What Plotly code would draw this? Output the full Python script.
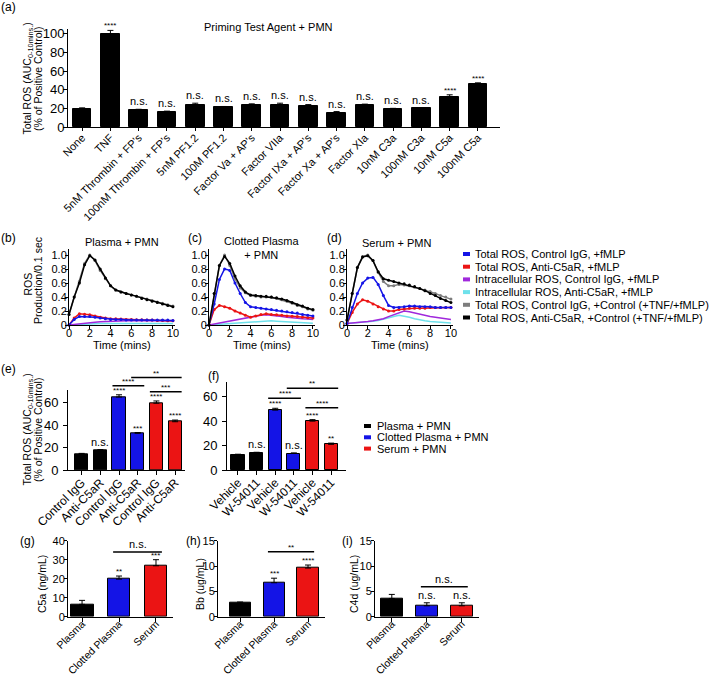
import plotly.graph_objects as go

W, H = 709, 678
FONT = "Arial, Liberation Sans, sans-serif"

# ---------------- data ----------------
a_categories = ["None", "TNF", "5nM Thrombin + FP's", "100nM Thrombin + FP's", "5nM PF1.2",
                "100M PF1.2", "Factor Va + AP's", "Factor VIIa", "Factor IXa + AP's",
                "Factor Xa + AP's", "Factor XIa", "10nM C3a", "100nM C3a", "10nM C5a", "100nM C5a"]
a_values = [19.5, 100, 18, 16.5, 23.5, 21, 24, 24, 22, 15.5, 24, 19.5, 20, 32.5, 46.5]
a_errors = [1, 3.5, 1, 0.5, 2, 1, 0.8, 1.5, 2, 1, 0.5, 0.5, 0.8, 2, 0.8]
a_sig = ["", "****", "n.s.", "n.s.", "n.s.", "n.s.", "n.s.", "n.s.", "n.s.", "n.s.",
         "n.s.", "n.s.", "n.s.", "****", "****"]

times = [0, 0.5, 1, 1.5, 2, 2.5, 3, 3.5, 4, 4.5, 5, 5.5, 6, 6.5, 7, 7.5, 8, 8.5, 9, 9.5, 10]
series_names = ["Total ROS, Control IgG, +fMLP", "Total ROS, Anti-C5aR, +fMLP",
                "Intracellular ROS, Control IgG, +fMLP", "Intracellular ROS, Anti-C5aR, +fMLP",
                "Total ROS, Control IgG, +Control (+TNF/+fMLP)",
                "Total ROS, Anti-C5aR, +Control (+TNF/+fMLP)"]
# panel (b) Plasma + PMN
b_blue = [0, 0.08, 0.12, 0.12, 0.12, 0.11, 0.10, 0.09, 0.08, 0.08, 0.08, 0.07, 0.07, 0.07, 0.07, 0.07, 0.07, 0.07, 0.07, 0.07, 0.065]
b_red = [0, 0.10, 0.16, 0.155, 0.145, 0.13, 0.11, 0.10, 0.09, 0.09, 0.085, 0.08, 0.08, 0.075, 0.075, 0.07, 0.07, 0.065, 0.065, 0.06, 0.06]
b_purple = [0, 0.01, 0.02, 0.03, 0.035, 0.04, 0.045, 0.05, 0.055, 0.06, 0.06, 0.06, 0.06, 0.06, 0.06, 0.06, 0.06, 0.06, 0.06, 0.06, 0.06]
b_cyan = [0, 0.005, 0.01, 0.01, 0.015, 0.015, 0.02, 0.02, 0.02, 0.02, 0.02, 0.02, 0.02, 0.02, 0.02, 0.02, 0.02, 0.02, 0.02, 0.02, 0.02]
b_gray = [0.15, 0.40, 0.62, 0.88, 1.0, 0.92, 0.78, 0.66, 0.56, 0.50, 0.47, 0.45, 0.43, 0.41, 0.39, 0.37, 0.35, 0.33, 0.31, 0.29, 0.27]
b_black = [0.15, 0.40, 0.60, 0.86, 0.99, 0.93, 0.80, 0.67, 0.56, 0.50, 0.47, 0.45, 0.43, 0.41, 0.38, 0.36, 0.34, 0.32, 0.30, 0.28, 0.26]
# panel (c) Clotted Plasma + PMN
c_blue = [0, 0.30, 0.65, 0.80, 0.78, 0.60, 0.45, 0.32, 0.26, 0.25, 0.24, 0.23, 0.22, 0.21, 0.20, 0.19, 0.18, 0.17, 0.15, 0.14, 0.13]
c_red = [0, 0.22, 0.28, 0.26, 0.24, 0.20, 0.17, 0.14, 0.11, 0.13, 0.15, 0.16, 0.15, 0.145, 0.14, 0.13, 0.125, 0.12, 0.11, 0.105, 0.10]
c_purple = [0, 0.015, 0.03, 0.045, 0.06, 0.075, 0.09, 0.105, 0.12, 0.13, 0.14, 0.145, 0.14, 0.13, 0.12, 0.11, 0.10, 0.095, 0.09, 0.085, 0.08]
c_cyan = [0, 0.005, 0.01, 0.015, 0.02, 0.025, 0.03, 0.035, 0.04, 0.05, 0.055, 0.06, 0.06, 0.055, 0.05, 0.045, 0.04, 0.035, 0.03, 0.03, 0.025]
c_gray = [0, 0.45, 0.85, 1.0, 0.85, 0.66, 0.53, 0.46, 0.42, 0.41, 0.40, 0.40, 0.40, 0.38, 0.36, 0.34, 0.31, 0.28, 0.26, 0.23, 0.21]
c_black = [0, 0.45, 0.85, 0.98, 0.88, 0.70, 0.56, 0.47, 0.43, 0.42, 0.41, 0.41, 0.40, 0.39, 0.37, 0.35, 0.32, 0.29, 0.27, 0.24, 0.22]
# panel (d) Serum + PMN
d_blue = [0.02, 0.25, 0.45, 0.60, 0.67, 0.68, 0.58, 0.42, 0.28, 0.25, 0.25, 0.26, 0.27, 0.27, 0.26, 0.26, 0.26, 0.25, 0.25, 0.25, 0.25]
d_red = [0.02, 0.18, 0.30, 0.36, 0.34, 0.30, 0.26, 0.23, 0.20, 0.20, 0.22, 0.23, 0.24, 0.24, 0.24, 0.24, 0.25, 0.25, 0.25, 0.25, 0.25]
d_purple = [0.02, 0.025, 0.03, 0.04, 0.05, 0.06, 0.07, 0.09, 0.12, 0.15, 0.18, 0.20, 0.19, 0.17, 0.15, 0.13, 0.12, 0.11, 0.10, 0.09, 0.08]
d_cyan = [0.02, 0.025, 0.03, 0.035, 0.045, 0.055, 0.065, 0.08, 0.10, 0.12, 0.14, 0.13, 0.11, 0.09, 0.07, 0.06, 0.05, 0.045, 0.04, 0.035, 0.03]
d_gray = [0.07, 0.45, 0.82, 0.98, 1.0, 0.92, 0.75, 0.62, 0.56, 0.56, 0.58, 0.57, 0.56, 0.54, 0.52, 0.50, 0.48, 0.45, 0.42, 0.40, 0.37]
d_black = [0.07, 0.45, 0.82, 0.97, 0.99, 0.92, 0.76, 0.66, 0.64, 0.62, 0.60, 0.59, 0.57, 0.55, 0.52, 0.49, 0.45, 0.42, 0.38, 0.35, 0.32]

e_categories = ["Control IgG", "Anti-C5aR", "Control IgG", "Anti-C5aR", "Control IgG", "Anti-C5aR"]
e_values = [14, 17.2, 65, 32.7, 59.5, 43]
e_errors = [0.8, 1, 2, 0.7, 2, 1.5]
e_sig = ["", "n.s.", "****", "***", "****", "****"]
e_brackets = [(2, 3, 75, "****"), (4, 5, 69.8, "***"), (3, 5, 82.3, "**")]

f_categories = ["Vehicle", "W-54011", "Vehicle", "W-54011", "Vehicle", "W-54011"]
f_values = [12.3, 13.7, 49, 13.5, 40, 21]
f_errors = [0.6, 0.8, 1.5, 0.5, 1.2, 1]
f_sig = ["", "n.s.", "****", "n.s.", "****", "**"]
f_brackets = [(2, 3, 58.7, "****"), (4, 5, 51, "****"), (3, 5, 66.9, "**")]

group_names = ["Plasma + PMN", "Clotted Plasma + PMN", "Serum + PMN"]
ghi_categories = ["Plasma", "Clotted Plasma", "Serum"]
g_values = [6.5, 19.8, 26.8]
g_errors = [2.1, 1.6, 3.2]
g_sig = ["", "**", "***"]
g_brackets = [(1, 2, 34, "n.s.")]
h_values = [2.7, 6.7, 9.6]
h_errors = [0.2, 0.9, 0.6]
h_sig = ["", "***", "****"]
h_brackets = [(1, 2, 12.8, "**")]
i_values = [3.6, 2.15, 2.15]
i_errors = [0.8, 0.6, 0.6]
i_sig = ["", "n.s.", "n.s."]
i_brackets = [(1, 2, 5.9, "n.s.")]

# ---------------- styles ----------------
BLUE = "rgb(20,20,230)"
RED = "rgb(235,20,20)"
PURPLE = "rgb(160,40,220)"
CYAN = "rgb(110,225,235)"
GRAY = "rgb(125,125,125)"
BLACK = "rgb(0,0,0)"
series_colors = [BLUE, RED, PURPLE, CYAN, GRAY, BLACK]
group_colors = [BLACK, BLUE, RED]

fig = go.Figure()
layout = {}
annotations = []
shapes = []
panels = {}


def add_axes(n, xpx, ypx, xr, yr, tickfont=11, xstand=-4, ystand=-2, yticklen=4, **xkw):
    xs = "" if n == 1 else str(n)
    xd = [xpx[0] / W, xpx[1] / W]
    yd = [1 - ypx[1] / H, 1 - ypx[0] / H]
    common = dict(showline=True, linecolor="black", linewidth=1, ticks="outside",
                  tickwidth=1, tickcolor="black", showgrid=False, automargin=False,
                  zeroline=False, tickfont=dict(size=tickfont, color="black", family=FONT))
    xa = dict(domain=xd, range=xr, anchor="y" + xs, ticklabelstandoff=xstand, ticklen=4, **common)
    xa.update(xkw)
    layout["xaxis" + xs] = xa
    layout["yaxis" + xs] = dict(domain=yd, range=yr, anchor="x" + xs, ticklabelstandoff=ystand,
                                ticklen=yticklen, **common)
    panels[n] = dict(xref="x" + xs, yref="y" + xs, yd=yd, yr=yr)
    return "x" + xs, "y" + xs


def ypaper(n, v):
    p = panels[n]
    return p["yd"][0] + (v - p["yr"][0]) / (p["yr"][1] - p["yr"][0]) * (p["yd"][1] - p["yd"][0])


def txt(x, y, s, size=11, xanchor="center", yanchor="middle", angle=0):
    annotations.append(dict(x=x / W, y=1 - y / H, xref="paper", yref="paper", text=s, showarrow=False,
                            xanchor=xanchor, yanchor=yanchor, textangle=angle,
                            font=dict(size=size, color="black", family=FONT)))


def bars(n, vals, errs, colors, width, sig, sigsizes=(11, 8)):
    p = panels[n]
    xs = list(range(len(vals)))
    fig.add_trace(go.Bar(x=xs, y=vals, width=width, marker=dict(color=colors, line=dict(color="black", width=1)),
                         error_y=dict(type="data", array=errs, arrayminus=[0] * len(vals), symmetric=False,
                                      color="black", thickness=1, width=3),
                         xaxis=p["xref"], yaxis=p["yref"], showlegend=False))
    for i, s in enumerate(sig):
        if s:
            annotations.append(dict(x=i, y=vals[i] + errs[i], xref=p["xref"], yref=p["yref"], text=s,
                                    showarrow=False, yanchor="bottom", yshift=0 if s == "n.s." else -2,
                                    font=dict(size=sigsizes[0] if s == "n.s." else sigsizes[1], color="black", family=FONT)))


def brackets(n, items, pad):
    p = panels[n]
    for i0, i1, yv, s in items:
        yp = ypaper(n, yv)
        shapes.append(dict(type="line", xref=p["xref"], yref="paper", x0=i0 - pad, x1=i1 + pad,
                           y0=yp, y1=yp, line=dict(color="black", width=1.5)))
        annotations.append(dict(x=(i0 + i1) / 2, y=yp, xref=p["xref"], yref="paper", text=s, showarrow=False,
                                yanchor="bottom", yshift=0 if s == "n.s." else -2,
                                font=dict(size=11 if s == "n.s." else 8, color="black", family=FONT)))


# ---------- (a) ----------
add_axes(1, (68, 500), (29, 127), [-0.5, 14.78], [0, 105], tickfont=13, ystand=-4,
         tickvals=list(range(len(a_categories))), ticktext=a_categories, tickangle=-45,
         ticklen=3)
layout["xaxis"]["tickfont"] = dict(size=11, color="black", family=FONT)
layout["yaxis"]["tickvals"] = [0, 20, 40, 60, 80, 100]
txt(27.5, 79, "Total ROS (AUC<sub>0-10mins.</sub>)", size=10.5, angle=-90)
txt(38, 79, "(% of Positive Control)", size=10.5, angle=-90)
bars(1, a_values, a_errors, [BLACK] * len(a_values), 0.66, a_sig)
txt(268, 27, "Priming Test Agent + PMN", size=11)

# ---------- (b)-(d) ----------
line_panels = [
    (2, (69, 175), [b_blue, b_red, b_purple, b_cyan, b_gray, b_black]),
    (3, (209, 315), [c_blue, c_red, c_purple, c_cyan, c_gray, c_black]),
    (4, (347, 453), [d_blue, d_red, d_purple, d_cyan, d_gray, d_black]),
]
for n, xpx, ser in line_panels:
    xr_, yr_ = add_axes(n, xpx, (249.4, 325), [0, 10.2], [0, 1.08], tickfont=11,
                        xstand=-5, ystand=-4, yticklen=3, tickvals=[0, 2, 4, 6, 8, 10], ticklen=3)
    layout["yaxis" + str(n)]["tickvals"] = [0, 0.2, 0.4, 0.6, 0.8, 1.0]
    layout["yaxis" + str(n)]["ticktext"] = ["0", "0.2", "0.4", "0.6", "0.8", "1.0"]
    txt(xpx[0] + 52.5, 345, "Time (mins)", size=11)
    for k in [3, 2, 1, 0, 4, 5]:
        withm = k in (0, 1, 4, 5)
        fig.add_trace(go.Scatter(x=times, y=ser[k], mode="lines+markers" if withm else "lines",
                                 line=dict(color=series_colors[k], width=1.5),
                                 marker=dict(size=3, color=series_colors[k]),
                                 name=series_names[k], showlegend=False, xaxis=xr_, yaxis=yr_,
                                 cliponaxis=False))
txt(27.5, 284, "ROS", size=10.5, angle=-90)
txt(38, 281, "Production/0.1 sec", size=10.5, angle=-90)
txt(122, 242, "Plasma + PMN", size=11)
txt(261, 248.5, "Clotted Plasma<br>+ PMN", size=11)
txt(396, 243, "Serum + PMN", size=11)

# legend for (b)-(d)
for k, nm in enumerate(series_names):
    yc = 254 + k * 12.7
    shapes.append(dict(type="rect", xref="paper", yref="paper", x0=463 / W, x1=470 / W,
                       y0=1 - (yc + 2) / H, y1=1 - (yc - 2) / H, fillcolor=series_colors[k], line=dict(width=0)))
    txt(473, yc, nm, size=11, xanchor="left")

# ---------- (e) ----------
add_axes(5, (68, 185), (390.3, 470), [-0.73, 5.53], [0, 71], tickfont=13, ystand=2,
         tickvals=list(range(6)), ticktext=e_categories, tickangle=-45)
layout["xaxis5"]["tickfont"] = dict(size=12, color="black", family=FONT)
layout["yaxis5"]["tickvals"] = [0, 20, 40, 60]
txt(27.5, 430, "Total ROS (AUC<sub>0-10mins.</sub>)", size=10.5, angle=-90)
txt(38, 430, "(% of Positive Control)", size=10.5, angle=-90)
cols6 = [group_colors[0], group_colors[0], group_colors[1], group_colors[1], group_colors[2], group_colors[2]]
bars(5, e_values, e_errors, cols6, 0.7, e_sig)
brackets(5, e_brackets, 0.35)

# ---------- (f) ----------
add_axes(6, (227, 346), (382, 470), [-0.59, 5.8], [0, 72], tickfont=13, ystand=2,
         tickvals=list(range(6)), ticktext=f_categories, tickangle=-45)
layout["xaxis6"]["tickfont"] = dict(size=12, color="black", family=FONT)
layout["yaxis6"]["tickvals"] = [0, 20, 40, 60]
bars(6, f_values, f_errors, cols6, 0.7, f_sig)
brackets(6, f_brackets, 0.38)

# legend for (e)-(f)
for k, nm in enumerate(group_names):
    yc = 426 + k * 11.3
    shapes.append(dict(type="rect", xref="paper", yref="paper", x0=364 / W, x1=371 / W,
                       y0=1 - (yc + 2) / H, y1=1 - (yc - 2) / H, fillcolor=group_colors[k], line=dict(width=0)))
    txt(375, yc, nm, size=11, xanchor="left")

# ---------- (g)-(i) ----------
ghi = [
    (7, (68, 173), [-0.38, 2.46], [0, 40], [0, 10, 20, 30, 40], g_values, g_errors, g_sig, g_brackets, 0.16, "C5a (ng/mL)", 42),
    (8, (218, 325), [-0.65, 2.5], [0, 15], [0, 5, 10, 15], h_values, h_errors, h_sig, h_brackets, 0.18, "Bb (ug/mL)", 200),
    (9, (375, 479), [-0.48, 2.49], [0, 15], [0, 5, 10, 15], i_values, i_errors, i_sig, i_brackets, 0.17, "C4d (ug/mL)", 354),
]
for n, xpx, xr, yr, tv, vals, errs, sig, br, pad, ytitle, tx in ghi:
    add_axes(n, xpx, (540.7, 616.7), xr, yr, tickfont=11, xstand=-8, ystand=-3, yticklen=3,
             tickvals=[0, 1, 2], ticktext=ghi_categories, tickangle=-45)
    layout["xaxis" + str(n)]["tickfont"] = dict(size=10.5, color="black", family=FONT)
    layout["yaxis" + str(n)]["tickvals"] = tv
    txt(tx, 584, ytitle, size=10.5, angle=-90)
    bars(n, vals, errs, group_colors, 0.62, sig)
    brackets(n, br, pad)

# panel letters
for s, x, y in [("(a)", 8.5, 7.5), ("(b)", 8.5, 237.5), ("(c)", 195, 237.5), ("(d)", 334, 237.5),
                ("(e)", 8.5, 369), ("(f)", 214, 376), ("(g)", 27, 540.5), ("(h)", 193, 540.5),
                ("(i)", 347, 540.5)]:
    txt(x, y, s, size=12)

fig.update_layout(template="none", width=W, height=H, margin=dict(l=0, r=0, t=0, b=0, autoexpand=False),
                  paper_bgcolor="white", plot_bgcolor="white", showlegend=False,
                  font=dict(family=FONT, color="black"), bargap=0,
                  annotations=annotations, shapes=shapes, **layout)
fig.write_html("out.html", config={"displayModeBar": False},
               post_script="document.body.style.margin='0px';document.body.style.overflow='hidden';")
